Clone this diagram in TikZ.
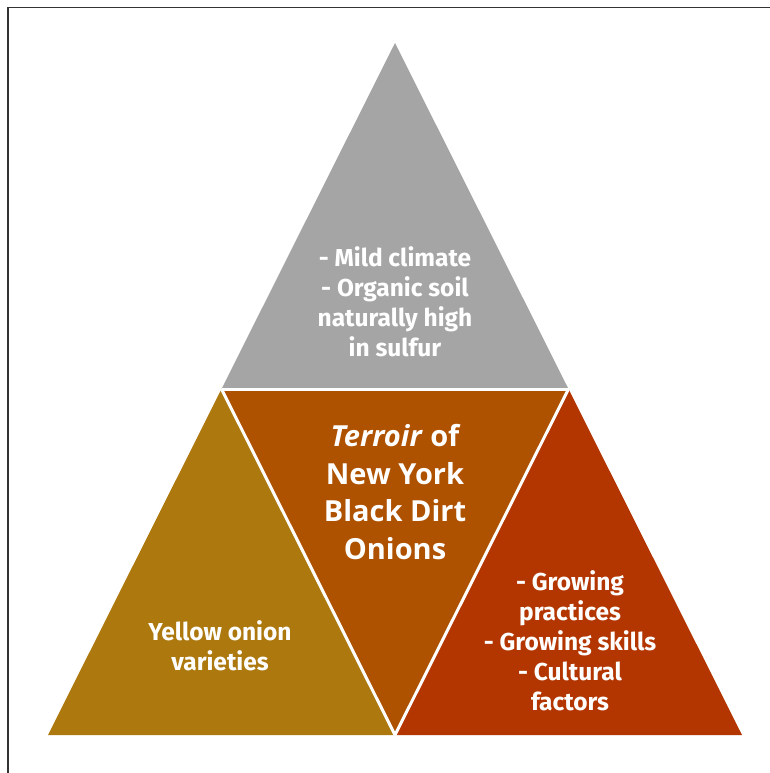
\documentclass[tikz,border=0pt]{standalone}
\usepackage{fontspec}
\newfontfamily\cenf{Open Sans}
\newfontfamily\condf{Fira Sans}
\definecolor{cgray}{HTML}{A5A5A5}
\definecolor{cmid}{HTML}{AF5200}
\definecolor{cleft}{HTML}{AD790F}
\definecolor{cright}{HTML}{B33600}
\begin{document}
\begin{tikzpicture}[x=1pt,y=-1pt,
  cond/.style={text=white,align=center,font=\condf\bfseries\fontsize{24.5}{30}\selectfont},
  center/.style={text=white,align=center,font=\cenf\bfseries\fontsize{29}{37.5}\selectfont},
  gap/.style={white,line width=3pt}]
\useasboundingbox (0,0) rectangle (770,773);
\fill[white] (0,0) rectangle (770,773);
\draw[line width=1.4pt,black!80] (8,773) -- (8,7.5) -- (770,7.5);
\coordinate (A) at (48,735);
\coordinate (B) at (742,735);
\coordinate (C) at (395,43);
\coordinate (AB) at (395,735);
\coordinate (AC) at (221.5,389);
\coordinate (BC) at (568.5,389);
\fill[cgray] (AC) -- (C) -- (BC) -- cycle;
\fill[cmid] (AC) -- (BC) -- (AB) -- cycle;
\fill[cleft] (A) -- (AC) -- (AB) -- cycle;
\fill[cright] (AB) -- (BC) -- (B) -- cycle;
\draw[gap] (AC) -- (BC);
\draw[gap] (AC) -- (AB) -- (BC);
\node[cond] (top) at (395,302) {- Mild climate\\- Organic soil\\naturally high\\in sulfur};
\node[center] (mid) at (395,492) {\textit{Terroir} of\\New York\\Black Dirt\\Onions};
\node[cond] (left) at (220,646) {Yellow onion\\varieties};
\node[cond] (right) at (570,641) {- Growing\\practices\\- Growing skills\\- Cultural\\factors};
\end{tikzpicture}
\end{document}
